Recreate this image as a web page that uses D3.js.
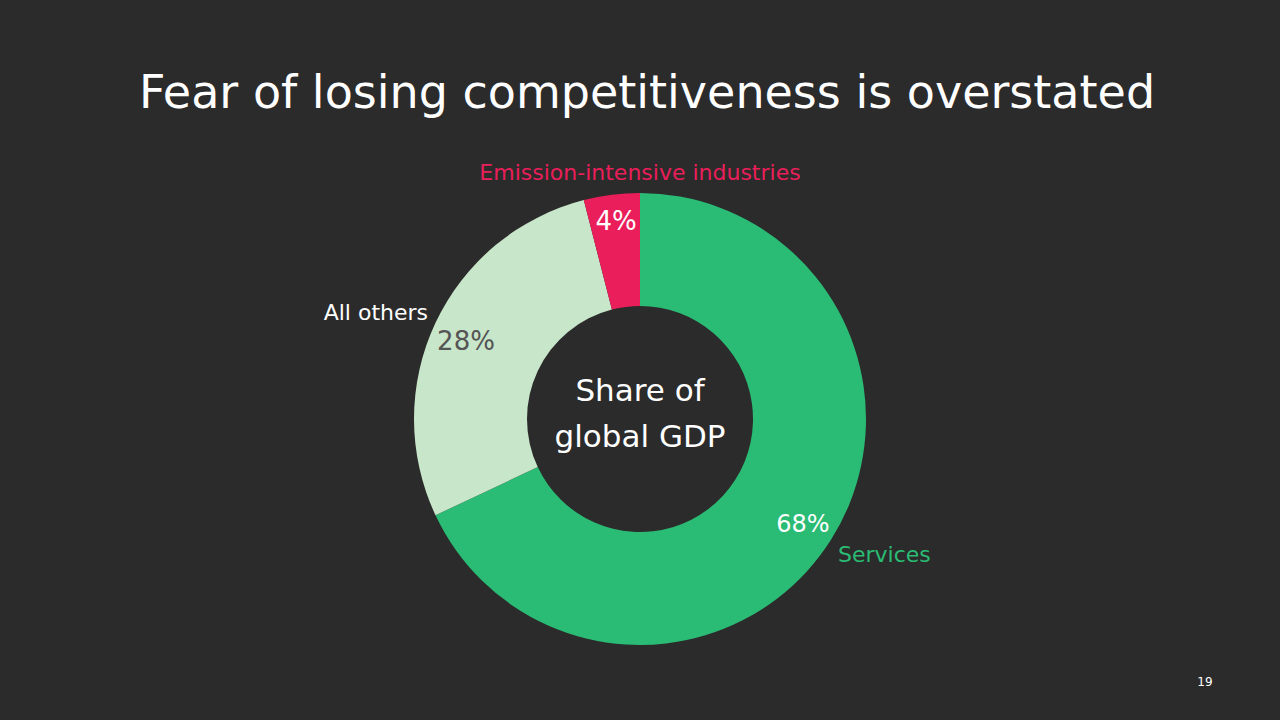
<!DOCTYPE html><html><head><meta charset="utf-8"><script src="https://cdn.jsdelivr.net/npm/d3@7"></script>
<style>body{margin:0;background:#2b2b2b}</style></head><body><svg id="c" width="1280" height="720"></svg>
<script>
const categories=["Services","All others","Emission-intensive industries"];
const values=[68,28,4];
const pctLabels=["68%","28%","4%"];
const colors=["#2abb74","#c8e6c9","#e91e5a"];
const svg=d3.select("#c");const F="'DejaVu Sans', sans-serif";
svg.append("rect").attr("width",1280).attr("height",720).attr("fill","#2b2b2b");
svg.append("text").attr("x",647).attr("y",108).attr("text-anchor","middle").attr("fill","#fff").attr("font-family",F).attr("font-size",46).text("Fear of losing competitiveness is overstated");
const g=svg.append("g").attr("transform","translate(640,419)");
const pie=d3.pie().sort(null).value(d=>d);
const arcs=pie(values);
const arc=d3.arc().innerRadius(113).outerRadius(226);
g.selectAll("path").data(arcs).join("path").attr("d",arc).attr("fill",(d,i)=>colors[i]);
const pctPos=[[163,113,"#fff"],[-174,-69,"#555"],[-24,-189,"#fff"]];
const pctSize=[24,26,26];
arcs.forEach((d,i)=>{g.append("text").attr("x",pctPos[i][0]).attr("y",pctPos[i][1]).attr("text-anchor","middle").attr("fill",pctPos[i][2]).attr("font-family",F).attr("font-size",pctSize[i]).text(pctLabels[i]);});
const catPos=[[838,562,"start","#2abb74"],[428,320,"end","#fff"],[640,180,"middle","#e91e5a"]];
categories.forEach((c,i)=>svg.append("text").attr("x",catPos[i][0]).attr("y",catPos[i][1]).attr("text-anchor",catPos[i][2]).attr("fill",catPos[i][3]).attr("font-family",F).attr("font-size",22).text(c));
svg.append("text").attr("x",640).attr("y",401).attr("text-anchor","middle").attr("fill","#fff").attr("font-family",F).attr("font-size",31).text("Share of");
svg.append("text").attr("x",640).attr("y",447).attr("text-anchor","middle").attr("fill","#fff").attr("font-family",F).attr("font-size",31).text("global GDP");
svg.append("text").attr("x",1205).attr("y",686).attr("text-anchor","middle").attr("fill","#fff").attr("font-family",F).attr("font-size",12).text("19");
</script></body></html>
